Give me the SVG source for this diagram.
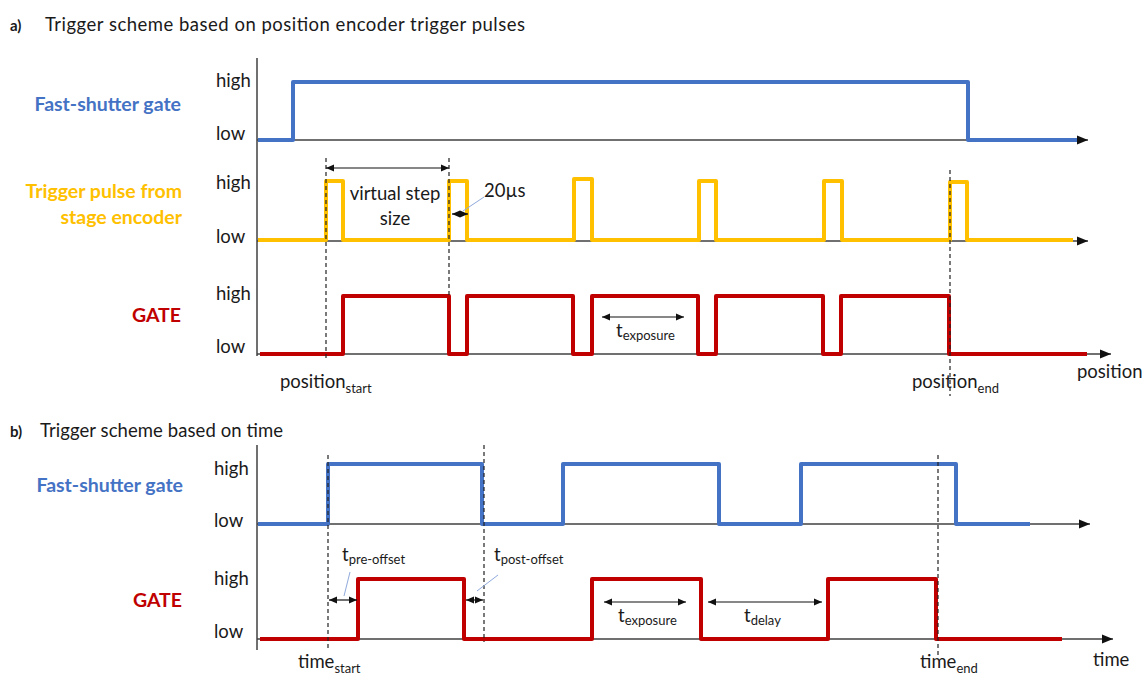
<svg xmlns="http://www.w3.org/2000/svg" width="1145" height="679" viewBox="0 0 1145 679">
<style>
.t{font-family:Lato,"Liberation Sans",sans-serif;fill:#1a1a1a}
.s18{font-size:18.5px}
.s19{font-size:19.5px}
.s15{font-size:15px}
.sub{font-size:13px}
.b{font-weight:bold}
.cb{fill:#4472C4}
.cy{fill:#FFC000}
.cr{fill:#C00000}
.end{text-anchor:end}
.mid{text-anchor:middle}
.sig{fill:none;stroke-width:4;stroke-linejoin:round}
.blue{stroke:#4472C4}
.yel{stroke:#FFC000}
.red{stroke:#C00000}
.axis{stroke:#404040;stroke-width:1.5;fill:none;marker-end:url(#ax)}
.vax{stroke:#404040;stroke-width:1.5}
.dash{stroke:#222;stroke-width:1.2;stroke-dasharray:4 3}
.dim{stroke:#111;stroke-width:1.2;marker-start:url(#ah);marker-end:url(#ah)}
.lead{stroke:#8FAADC;stroke-width:1}
</style>
<defs>
<marker id="ax" viewBox="0 0 10 10" refX="10" refY="5" markerWidth="11" markerHeight="11" markerUnits="userSpaceOnUse" orient="auto"><path d="M0,1 L10,5 L0,9Z" fill="#111"/></marker>
<marker id="ah" viewBox="0 0 10 10" refX="10" refY="5" markerWidth="8" markerHeight="8" markerUnits="userSpaceOnUse" orient="auto-start-reverse"><path d="M0,0.5 L10,5 L0,9.5Z" fill="#111"/></marker>
</defs>
<rect width="1145" height="679" fill="#fff"/>

<!-- Section a -->
<g id="title-a">
<text class="t b s15" x="10" y="31">a)</text>
<text class="t s18" x="45" y="31" textLength="480">Trigger scheme based on position encoder trigger pulses</text>
</g>

<g id="axes-a">
<line class="vax" x1="257" y1="58" x2="257" y2="356"/>
<line class="axis" x1="257" y1="140" x2="1088" y2="140"/>
<line class="axis" x1="257" y1="241" x2="1088" y2="241"/>
<line class="axis" x1="257" y1="354" x2="1111" y2="354"/>
</g>

<g id="levels-a">
<text class="t s18" x="216" y="87">high</text>
<text class="t s18" x="216" y="140">low</text>
<text class="t s18" x="216" y="189">high</text>
<text class="t s18" x="216" y="243">low</text>
<text class="t s18" x="216" y="300">high</text>
<text class="t s18" x="216" y="353">low</text>
</g>

<g id="fast-shutter-a">
<text class="t b s19 cb end" x="181" y="111">Fast-shutter gate</text>
<path class="sig blue" d="M258,140 H293 V82 H968 V140 H1077"/>
</g>

<g id="trigger-a">
<text class="t b s19 cy end" x="182" y="198">Trigger pulse from</text>
<text class="t b s19 cy end" x="182" y="224">stage encoder</text>
<path class="sig yel" d="M258,240 H326 V181 H343 V240 H449 V181 H467 V240 H574 V179 H592 V240 H699 V181 H716 V240 H824 V181 H842 V240 H950 V182 H967 V240 H1073"/>
</g>

<g id="gate-a">
<text class="t b s19 cr end" x="181" y="322">GATE</text>
<path class="sig red" d="M260,354 H343 V296 H449 V354 H467 V296 H573 V354 H592 V296 H698 V354 H716 V296 H823 V354 H841 V296 H949 V354 H1087"/>
</g>

<g id="connectors-a">
<line class="dash" x1="326" y1="158" x2="326" y2="358"/>
<line class="dash" x1="449" y1="158" x2="449" y2="296"/>
<line class="dash" x1="950" y1="170" x2="950" y2="396"/>
<line class="dim" x1="326" y1="168" x2="449" y2="168"/>
<line class="dim" x1="452" y1="214" x2="468" y2="214"/>
<line class="lead" x1="463" y1="211" x2="484" y2="197"/>
<line class="dim" x1="602" y1="317" x2="684" y2="317"/>
</g>

<g id="labels-a">
<text class="t s18 mid" x="395" y="200">virtual step</text>
<text class="t s18 mid" x="395" y="225">size</text>
<text class="t s18" x="484" y="197">20µs</text>
<text class="t s18" x="616" y="337">t<tspan class="sub" dy="3">exposure</tspan></text>
<text class="t s18" x="280" y="388">position<tspan class="sub" dy="5">start</tspan></text>
<text class="t s18" x="912" y="388">position<tspan class="sub" dy="5">end</tspan></text>
<text class="t s18" x="1077" y="378">position</text>
</g>

<!-- Section b -->
<g id="title-b">
<text class="t b s15" x="10" y="437">b)</text>
<text class="t s18" x="40" y="437" textLength="243">Trigger scheme based on time</text>
</g>

<g id="axes-b">
<line class="vax" x1="257" y1="445" x2="257" y2="650"/>
<line class="axis" x1="257" y1="524" x2="1090" y2="524"/>
<line class="axis" x1="257" y1="639" x2="1113" y2="639"/>
</g>

<g id="levels-b">
<text class="t s18" x="214" y="475">high</text>
<text class="t s18" x="214" y="527">low</text>
<text class="t s18" x="214" y="585">high</text>
<text class="t s18" x="214" y="638">low</text>
</g>

<g id="fast-shutter-b">
<text class="t b s19 cb end" x="183" y="492">Fast-shutter gate</text>
<path class="sig blue" d="M258,524 H328 V464 H482 V524 H563 V464 H719 V524 H801 V464 H956 V524 H1030"/>
</g>

<g id="gate-b">
<text class="t b s19 cr end" x="182" y="607">GATE</text>
<path class="sig red" d="M260,639 H358 V579 H464 V639 H592 V579 H701 V639 H828 V579 H936 V639 H1062"/>
</g>

<g id="connectors-b">
<line class="dash" x1="328" y1="455" x2="328" y2="650"/>
<line class="dash" x1="484" y1="445" x2="484" y2="642"/>
<line class="dash" x1="938" y1="455" x2="938" y2="657"/>
<line class="dim" x1="329" y1="600" x2="357" y2="600"/>
<line class="dim" x1="466" y1="600" x2="483" y2="600"/>
<line class="dim" x1="604" y1="602" x2="686" y2="602"/>
<line class="dim" x1="708" y1="602" x2="822" y2="602"/>
<line class="lead" x1="344" y1="596" x2="350" y2="572"/>
<line class="lead" x1="477" y1="591" x2="498" y2="575"/>
</g>

<g id="labels-b">
<text class="t s18" x="342" y="561">t<tspan class="sub" dy="3">pre-offset</tspan></text>
<text class="t s18" x="494" y="561">t<tspan class="sub" dy="3">post-offset</tspan></text>
<text class="t s18" x="618" y="622">t<tspan class="sub" dy="3">exposure</tspan></text>
<text class="t s18" x="744" y="622">t<tspan class="sub" dy="3">delay</tspan></text>
<text class="t s18" x="298" y="668">time<tspan class="sub" dy="5">start</tspan></text>
<text class="t s18" x="920" y="668">time<tspan class="sub" dy="5">end</tspan></text>
<text class="t s18" x="1093" y="666">time</text>
</g>
</svg>
